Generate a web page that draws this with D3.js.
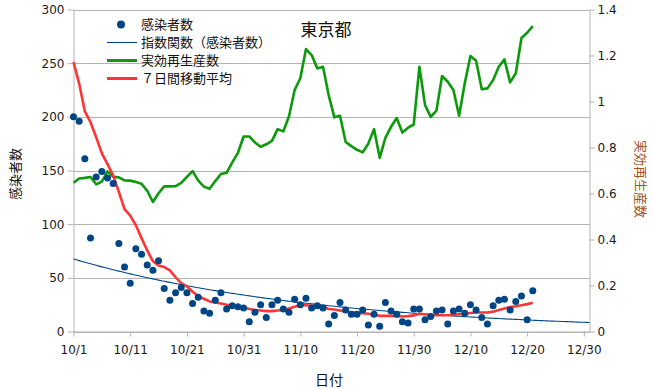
<!DOCTYPE html>
<html><head><meta charset="utf-8">
<script src="https://cdn.jsdelivr.net/npm/d3@7"></script>
<style>body{margin:0;background:#fff}svg{display:block}text{text-spacing-trim:space-all}.fw{font-feature-settings:"fwid" 1,"halt" 0,"chws" 0}</style>
</head><body><svg id="c" width="653" height="389"></svg>
<script>
// ---- data (day 0 = 10/1) ----
const startDate = new Date(Date.UTC(2020, 9, 1));
const cases = [200,196,161,87,144,149,143,138,82,60,
  45,77,72,62,57,66,40,29,36,41,
  36,26,32,19,17,29,36,21,24,23,
  22,9,18,25,13,25,29,21,18,30,
  25,31,22,24,22,7,15,27,20,16,
  16,20,6,16,5,27,19,16,9,8,
  21,21,11,14,19,20,7,19,21,17,
  25,20,13,7,24,29,30,20,28,33,
  11,38];
const ma7 = [251,231,205,195,181,166,156,145.5,130,114,
  108,99,87,75.5,65.5,61.5,60,57,50.5,45,
  42,37,33,30.5,28,27,26,25,24,23,
  22.5,21,20,19.6,19,19,19.5,20,21.5,23,
  24.5,24.5,24,24,23,21,20.5,19.5,18.5,18,
  17.5,17,16.5,15.5,14.6,14.6,14.6,14.3,14,14.3,
  15,16.5,16,15.5,15.2,15.2,15.2,15.5,16,16.5,
  17.2,17.7,17.7,17.7,18.5,20,21.5,22.7,23.5,24.5,
  25.5,26.7];
const rt = [0.647,0.665,0.668,0.672,0.640,0.652,0.696,0.673,0.670,0.657,
  0.656,0.650,0.642,0.612,0.563,0.601,0.631,0.631,0.632,0.646,
  0.672,0.697,0.656,0.630,0.621,0.654,0.685,0.690,0.735,0.777,
  0.848,0.848,0.822,0.803,0.814,0.829,0.880,0.870,0.935,1.050,
  1.101,1.228,1.202,1.144,1.151,1.028,0.931,0.938,0.824,0.806,
  0.790,0.779,0.817,0.880,0.755,0.842,0.890,0.928,0.865,0.886,
  0.900,1.151,0.984,0.933,0.960,1.111,1.086,1.050,0.938,1.079,
  1.198,1.177,1.053,1.057,1.093,1.151,1.183,1.083,1.123,1.276,
  1.299,1.328];
const xTickLabels = ["10/1","10/11","10/21","10/31","11/10","11/20","11/30","12/10","12/20","12/30"];
const leftTicks = [0,50,100,150,200,250,300];
const rightTicks = [0,0.2,0.4,0.6,0.8,1,1.2,1.4];
const legendLabels = ["感染者数","指数関数（感染者数）","実効再生産数","７日間移動平均"];
const chartTitle = "東京都";
const xTitle = "日付", yLeftTitle = "感染者数", yRightTitle = "実効再生産数";

// ---- chart ----
const jp = "'Noto Sans CJK JP','Noto Sans',sans-serif";
const num = "'DejaVu Sans',sans-serif";
const cBlue = "#004586", cGreen = "#0a9a0a", cRed = "#ff3535", cGrid = "#b3b3b3";

const svg = d3.select("#c");
const m = {l: 73.5, r: 589.5, t: 9.5, b: 331.5};
const day = i => new Date(startDate.getTime() + i * 864e5);
const x = d3.scaleUtc().domain([day(0), day(91)]).range([m.l, m.r]);
const yL = d3.scaleLinear().domain([0, 300]).range([m.b, m.t]);
const yR = d3.scaleLinear().domain([0, 1.4]).range([m.b, m.t]);

// gridlines
svg.append("g").selectAll("line").data(leftTicks).join("line")
  .attr("x1", m.l).attr("x2", m.r)
  .attr("y1", d => Math.round(yL(d)) + 0.5).attr("y2", d => Math.round(yL(d)) + 0.5)
  .attr("stroke", cGrid).attr("stroke-width", 1);

function styleAxis(g) {
  g.select(".domain").attr("stroke", cGrid);
  g.selectAll(".tick line").attr("stroke", cGrid);
  g.selectAll(".tick text").attr("fill", "#1a1a1a").style("font-family", num).style("font-size", "12px");
}

// left axis
svg.append("g").attr("transform", `translate(${m.l},0)`)
  .call(d3.axisLeft(yL).tickValues(leftTicks).tickSize(6).tickSizeOuter(0).tickPadding(3))
  .call(styleAxis);
// right axis
svg.append("g").attr("transform", `translate(${m.r},0)`)
  .call(d3.axisRight(yR).tickValues(rightTicks).tickSize(5).tickSizeOuter(0).tickPadding(3)
    .tickFormat(d => String(+d.toFixed(1))))
  .call(styleAxis);
// bottom axis
svg.append("g").attr("transform", `translate(0,${m.b})`)
  .call(d3.axisBottom(x).tickValues(xTickLabels.map((_, i) => day(i * 10)))
    .tickFormat((d, i) => xTickLabels[i]).tickSize(5).tickSizeOuter(0).tickPadding(9))
  .call(styleAxis);

// exponential trend (least squares on ln)
const n = cases.length;
const lx = d3.range(n), ly = cases.map(v => Math.log(v));
const mx = d3.mean(lx), my = d3.mean(ly);
const slope = d3.sum(lx, (v, i) => (v - mx) * (ly[i] - my)) / d3.sum(lx, v => (v - mx) ** 2);
const icpt = my - slope * mx;
const trendDays = d3.range(0, 91.01, 0.5);
svg.append("path")
  .attr("d", d3.line().x(d => x(day(d))).y(d => yL(Math.exp(icpt + slope * d)))(trendDays))
  .attr("fill", "none").attr("stroke", cBlue).attr("stroke-width", 1.1);

// Rt line
svg.append("path")
  .attr("d", d3.line().x((d, i) => x(day(i))).y(d => yR(d))(rt))
  .attr("fill", "none").attr("stroke", cGreen).attr("stroke-width", 2.6).attr("stroke-linejoin", "round");

// 7-day moving average
svg.append("path")
  .attr("d", d3.line().x((d, i) => x(day(i))).y(d => yL(d))(ma7))
  .attr("fill", "none").attr("stroke", cRed).attr("stroke-width", 2.6).attr("stroke-linejoin", "round");

// dots
svg.append("g").selectAll("circle").data(cases).join("circle")
  .attr("cx", (d, i) => x(day(i))).attr("cy", d => yL(d)).attr("r", 3.5)
  .attr("fill", cBlue);

// title
svg.append("text").attr("x", 326).attr("y", 36).attr("text-anchor", "middle")
  .style("font-family", jp).style("font-size", "17px").attr("fill", "#111").text(chartTitle);

// axis titles
svg.append("text").attr("x", 329).attr("y", 385).attr("text-anchor", "middle")
  .style("font-family", jp).style("font-size", "14px").attr("fill", "#111").text(xTitle);
svg.append("text").attr("transform", "translate(15,174) rotate(-90)").attr("text-anchor", "middle")
  .attr("dy", "0.35em").style("font-family", jp).style("font-size", "13px").attr("fill", "#111").text(yLeftTitle);
svg.append("text").attr("transform", "translate(641,179) rotate(90)").attr("text-anchor", "middle")
  .attr("dy", "0.35em").style("font-family", jp).style("font-size", "13px").attr("fill", "#a5521b").text(yRightTitle);

// legend
const lg = svg.append("g");
const ly0 = 24.5, lstep = 18;
legendLabels.forEach((t, i) => {
  const yy = ly0 + i * lstep;
  if (i === 0) {
    lg.append("circle").attr("cx", 121).attr("cy", yy).attr("r", 4).attr("fill", cBlue);
  } else {
    lg.append("line").attr("x1", 107).attr("x2", 137).attr("y1", yy).attr("y2", yy)
      .attr("stroke", [null, cBlue, cGreen, cRed][i]).attr("stroke-width", i === 1 ? 1.1 : 3);
  }
  lg.append("text").attr("class", "fw").attr("x", 141).attr("y", yy).attr("dy", "0.36em")
    .style("font-family", jp).style("font-size", "13px").attr("fill", "#111").text(t);
});
</script></body></html>
